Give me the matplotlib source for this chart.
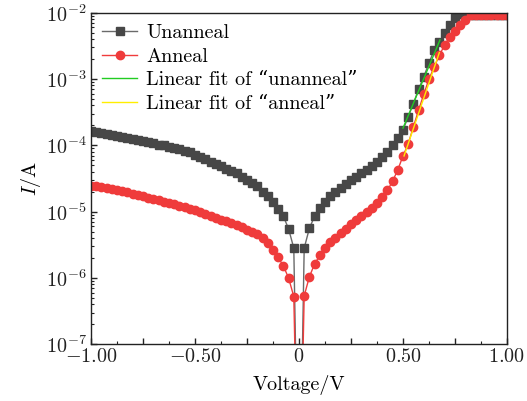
import numpy as np
import matplotlib
matplotlib.use("Agg")
import matplotlib.pyplot as plt
from matplotlib.ticker import MultipleLocator, FixedLocator, FixedFormatter, LogLocator, NullFormatter

plt.rcParams['font.family'] = ['cmr10', 'DejaVu Serif']
plt.rcParams['mathtext.fontset'] = 'cm'
plt.rcParams['axes.formatter.use_mathtext'] = True

# Voltage sweep (V)
voltage = [round(-1 + 0.025 * i, 3) for i in range(81)]

# log10(I/A)
unanneal_log10_I = [
    -3.79, -3.80, -3.81, -3.83, -3.84, -3.86, -3.87, -3.89, -3.90, -3.92,
    -3.94, -3.95, -3.97, -3.99, -4.00, -4.02, -4.04, -4.06, -4.08, -4.10,
    -4.14, -4.17, -4.21, -4.25, -4.28, -4.31, -4.35, -4.39, -4.42, -4.47,
    -4.52, -4.57, -4.62, -4.70, -4.77, -4.86, -4.96, -5.07, -5.26, -5.55,
    -10.0,
    -5.55, -5.25, -5.07, -4.95, -4.85, -4.77, -4.70, -4.64, -4.58, -4.52,
    -4.47, -4.42, -4.37, -4.31, -4.25, -4.18, -4.10, -4.00, -3.89, -3.77,
    -3.57, -3.37, -3.155, -2.965, -2.76, -2.56, -2.44, -2.31, -2.19, -2.08,
    -2.02, -2.03, -2.03, -2.03, -2.03, -2.03, -2.03, -2.03, -2.03, -2.03,
]
anneal_log10_I = [
    -4.61, -4.62, -4.63, -4.645, -4.66, -4.675, -4.69, -4.71, -4.73, -4.75,
    -4.77, -4.79, -4.81, -4.83, -4.85, -4.87, -4.89, -4.91, -4.93, -4.955,
    -4.98, -5.005, -5.03, -5.06, -5.09, -5.12, -5.145, -5.17, -5.20, -5.235,
    -5.27, -5.30, -5.34, -5.40, -5.47, -5.58, -5.69, -5.82, -6.00, -6.28,
    -10.0,
    -6.27, -5.98, -5.79, -5.66, -5.55, -5.46, -5.39, -5.32, -5.26, -5.19,
    -5.13, -5.07, -5.01, -4.95, -4.87, -4.78, -4.68, -4.54, -4.37, -4.16,
    -3.98, -3.72, -3.47, -3.23, -3.00, -2.82, -2.64, -2.49, -2.36, -2.27,
    -2.19, -2.11, -2.04, -2.03, -2.03, -2.03, -2.03, -2.03, -2.03, -2.03,
]

# Linear fits (end points)
fit_unanneal_V = [0.500, 0.678]
fit_unanneal_log10_I = [-3.74, -2.41]
fit_anneal_V = [0.505, 0.675]
fit_anneal_log10_I = [-4.16, -2.60]

labels = ["Unanneal", "Anneal", "Linear fit of \u201cunanneal\u201d", "Linear fit of \u201canneal\u201d"]
xtick_vals = [-1.0, -0.75, -0.5, -0.25, 0.0, 0.25, 0.5, 0.75, 1.0]
xtick_labels = [r"$-1.00$", "", r"$-0.50$", "", r"$0$", "", r"$0.50$", "", r"$1.00$"]

FS = 14.5

fig = plt.figure(figsize=(5.27, 4.01), dpi=100)
ax = fig.add_axes([0.1727, 0.1414, 0.962 - 0.1727, 0.9683 - 0.1414])

ax.plot(voltage, np.power(10.0, unanneal_log10_I), color="#6a6a6a", lw=1.0,
        marker="s", ms=5.3, mfc="#474747", mec="#474747", label=labels[0])
ax.plot(voltage, np.power(10.0, anneal_log10_I), color="#f03c3c", lw=1.0,
        marker="o", ms=6.0, mfc="#ef3b3b", mec="#ef3b3b", label=labels[1])
ax.plot(fit_unanneal_V, np.power(10.0, fit_unanneal_log10_I), color="#22cc22", lw=1.0, label=labels[2])
ax.plot(fit_anneal_V, np.power(10.0, fit_anneal_log10_I), color="#ffee00", lw=1.0, label=labels[3])

ax.set_yscale("log")
ax.set_xlim(-1, 1)
ax.set_ylim(1e-7, 1e-2)

ax.xaxis.set_major_locator(FixedLocator(xtick_vals))
ax.xaxis.set_major_formatter(FixedFormatter(xtick_labels))
ax.xaxis.set_minor_locator(MultipleLocator(0.125))
ax.yaxis.set_major_locator(LogLocator(base=10, numticks=10))
ax.yaxis.set_minor_locator(LogLocator(base=10, subs=np.arange(2, 10), numticks=10))
ax.yaxis.set_minor_formatter(NullFormatter())

ax.tick_params(which="both", direction="in", top=False, right=False, labelsize=FS, colors="#222222")
ax.tick_params(which="major", length=4.5, width=1.0, pad=3)
ax.tick_params(which="minor", length=2.5, width=0.8)
for s in ax.spines.values():
    s.set_linewidth(1.0)
    s.set_color("#222222")

ax.set_xlabel("Voltage/V", fontsize=FS, labelpad=6)
ax.set_ylabel(r"$I$/A", fontsize=FS, labelpad=2)

leg = ax.legend(loc="upper left", frameon=False, fontsize=FS, handlelength=1.75,
                borderaxespad=0.3, borderpad=0.25, labelspacing=0.28, handletextpad=0.45)

fig.savefig("out.png", dpi=100)
